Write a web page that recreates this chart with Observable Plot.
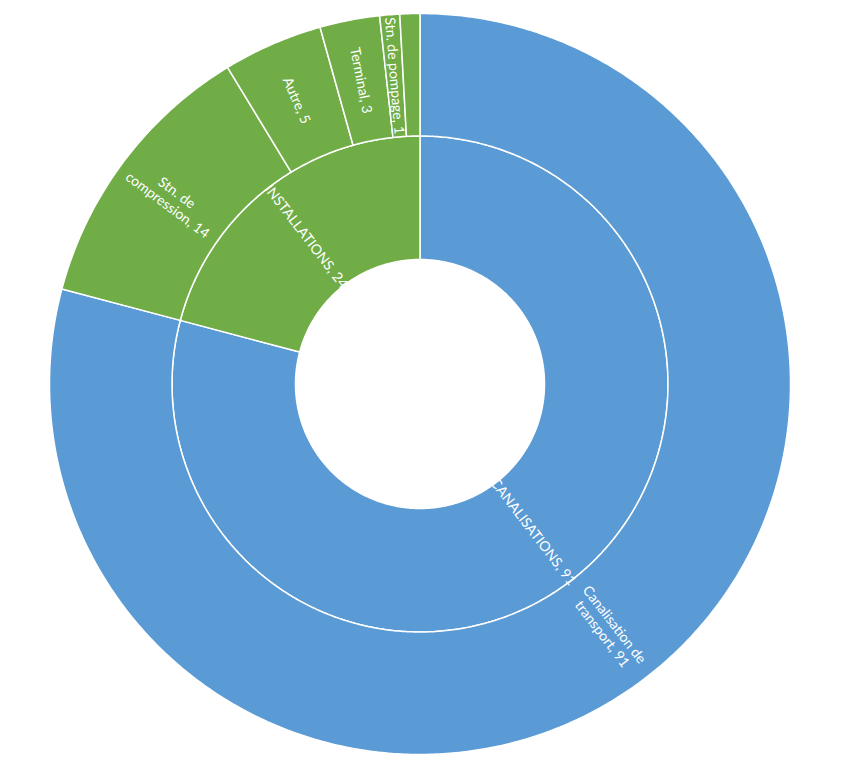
<!DOCTYPE html>
<html>
<head>
<meta charset="utf-8">
<script src="https://cdn.jsdelivr.net/npm/d3@7"></script>
<script src="https://cdn.jsdelivr.net/npm/@observablehq/plot@0.6"></script>
<style>
  html, body { margin: 0; padding: 0; background: #ffffff; }
  #chart svg { display: block; }
</style>
</head>
<body>
<div id="chart"></div>
<script>
// ---- Data ----
const parentNames = ["CANALISATIONS", "INSTALLATIONS"];
const parentValues = [91, 24];
const parentColors = ["#5B9BD5", "#70AD47"];

const childNames = ["Canalisation de transport", "Stn. de compression", "Autre", "Terminal", "Stn. de pompage", ""];
const childParents = ["CANALISATIONS", "INSTALLATIONS", "INSTALLATIONS", "INSTALLATIONS", "INSTALLATIONS", "INSTALLATIONS"];
const childValues = [91, 14, 5, 3, 1, 1];

// ---- Layout ----
const W = 862, H = 771;
const cx = 419.5, cy = 383.5;
const R0 = 124.5, R1 = 248, R2 = 370.5;
const total = d3.sum(parentValues);
const colorOf = Object.fromEntries(parentNames.map((n, i) => [n, parentColors[i]]));

function arcs(names, values, groups, r0, r1, ring) {
  let acc = 0;
  return names.map((name, i) => {
    const a0 = acc / total * 2 * Math.PI;
    acc += values[i];
    const a1 = acc / total * 2 * Math.PI;
    return {id: ring + i, name, value: values[i], group: groups[i], a0, a1, r0, r1};
  });
}
const ringInner = arcs(parentNames, parentValues, parentNames, R0, R1, "p");
const ringOuter = arcs(childNames, childValues, childParents, R1, R2, "c");
const allArcs = ringInner.concat(ringOuter);

// polygon points for each arc
const pts = [];
for (const a of allArcs) {
  const n = Math.max(2, Math.ceil((a.a1 - a.a0) / (Math.PI / 360)));
  for (let k = 0; k <= n; k++) {
    const t = a.a0 + (a.a1 - a.a0) * k / n;
    pts.push({id: a.id, fill: colorOf[a.group], x: a.r1 * Math.sin(t), y: -a.r1 * Math.cos(t)});
  }
  for (let k = n; k >= 0; k--) {
    const t = a.a0 + (a.a1 - a.a0) * k / n;
    pts.push({id: a.id, fill: colorOf[a.group], x: a.r0 * Math.sin(t), y: -a.r0 * Math.cos(t)});
  }
}

function wrap(s) {
  if (s.length <= 20) return s;
  const words = s.split(" ");
  const lines = [];
  let cur = "";
  for (const w of words) {
    if (cur && (cur + " " + w).length > 15) { lines.push(cur); cur = w; }
    else cur = cur ? cur + " " + w : w;
  }
  if (cur) lines.push(cur);
  return lines.join("\n");
}

const labels = allArcs.filter(a => a.name).map(a => {
  const t = (a.a0 + a.a1) / 2;
  const rm = (a.r0 + a.r1) / 2;
  let rot = t * 180 / Math.PI - 90;
  while (rot > 90) rot -= 180;
  while (rot <= -90) rot += 180;
  return {x: rm * Math.sin(t), y: -rm * Math.cos(t), rot, text: wrap(a.name + ", " + a.value)};
});

const chart = Plot.plot({
  width: W,
  height: H,
  margin: 0,
  x: {domain: [-cx, W - cx], range: [0, W], axis: null},
  y: {domain: [-cy, H - cy], range: [0, H], axis: null},
  color: {type: "identity"},
  style: {background: "#ffffff", fontFamily: "Lato, 'Open Sans', sans-serif"},
  marks: [
    Plot.line(pts, {x: "x", y: "y", z: "id", fill: "fill", stroke: "#ffffff", strokeWidth: 1.5, curve: "linear-closed"}),
    Plot.text(labels, {x: "x", y: "y", text: "text", rotate: "rot", fill: "#ffffff", fontSize: 14, lineHeight: 1.1, textAnchor: "middle"})
  ]
});
document.getElementById("chart").appendChild(chart);
</script>
</body>
</html>
